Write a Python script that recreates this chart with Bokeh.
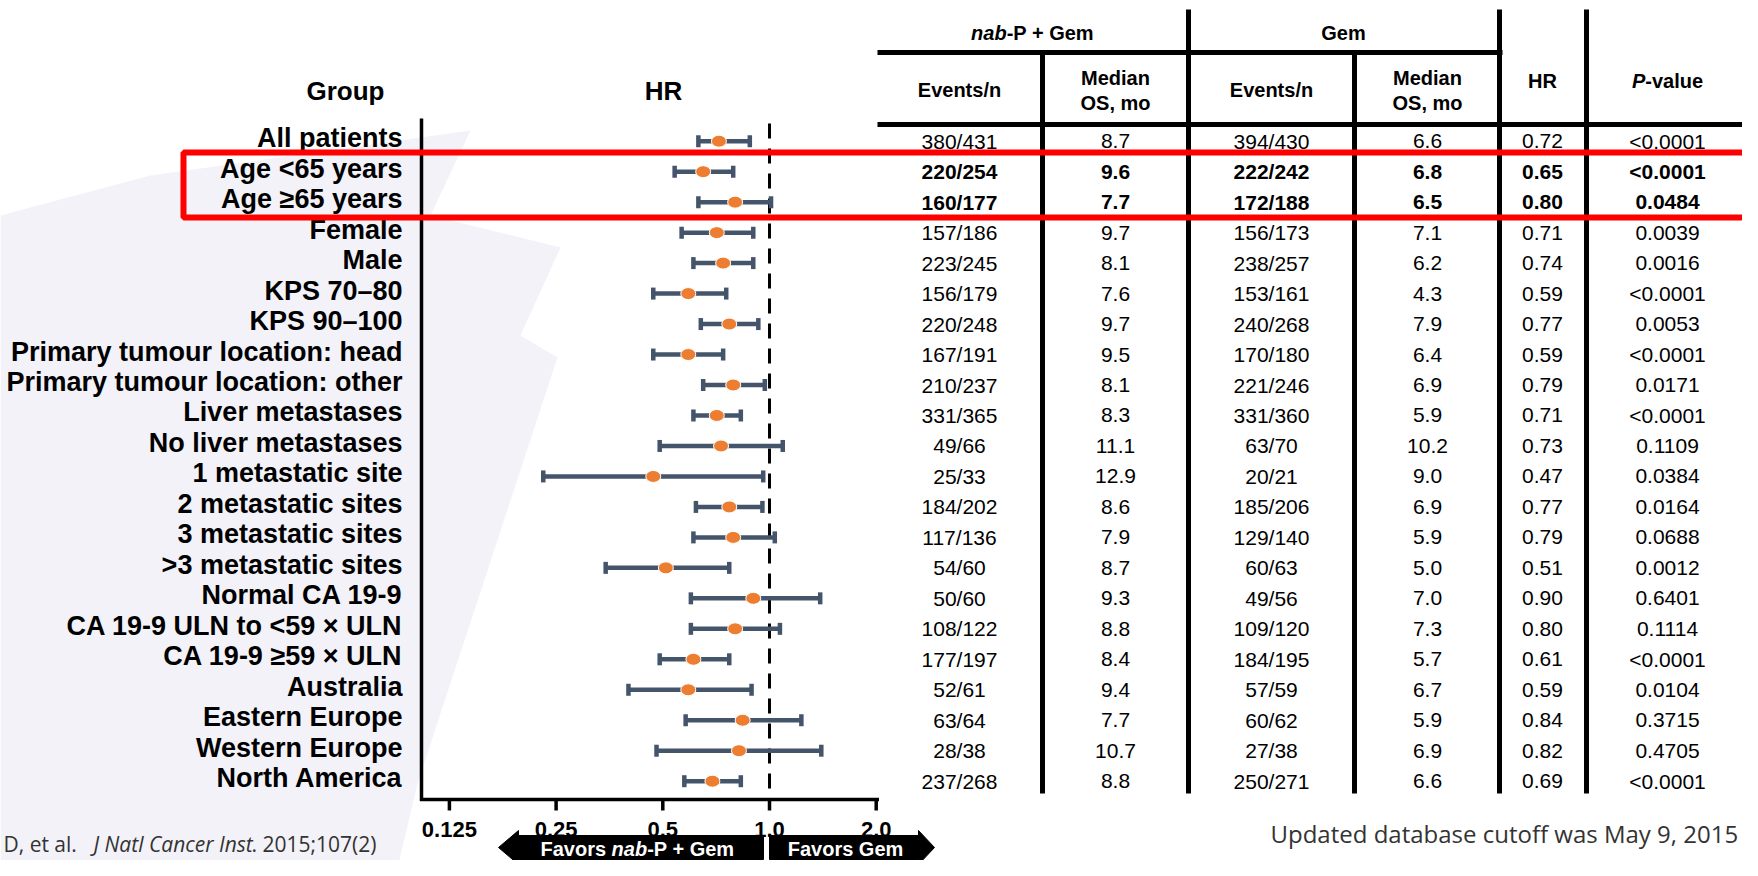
from bokeh.plotting import figure
from bokeh.models import Range1d, LogScale, ColumnDataSource
from bokeh.core.properties import value
from bokeh.embed import file_html
from bokeh.resources import INLINE
import numpy as np

# ---------------- data ----------------
groups = ["All patients", "Age <65 years", "Age \u226565 years", "Female", "Male",
          "KPS 70\u201380", "KPS 90\u2013100", "Primary tumour location: head",
          "Primary tumour location: other", "Liver metastases", "No liver metastases",
          "1 metastatic site", "2 metastatic sites", "3 metastatic sites",
          ">3 metastatic sites", "Normal CA 19-9", "CA 19-9 ULN to <59 \u00d7 ULN",
          "CA 19-9 \u226559 \u00d7 ULN", "Australia", "Eastern Europe", "Western Europe",
          "North America"]
hr = [0.72, 0.65, 0.80, 0.71, 0.74, 0.59, 0.77, 0.59, 0.79, 0.71, 0.73,
      0.47, 0.77, 0.79, 0.51, 0.90, 0.80, 0.61, 0.59, 0.84, 0.82, 0.69]
ci_low = [0.63, 0.54, 0.63, 0.565, 0.61, 0.47, 0.64, 0.47, 0.65, 0.61, 0.49,
          0.23, 0.62, 0.61, 0.345, 0.60, 0.60, 0.49, 0.40, 0.58, 0.48, 0.575]
ci_high = [0.88, 0.79, 1.01, 0.90, 0.90, 0.755, 0.93, 0.74, 0.97, 0.83, 1.09,
           0.96, 0.955, 1.035, 0.77, 1.39, 1.07, 0.77, 0.89, 1.23, 1.40, 0.83]
events_nab = ["380/431", "220/254", "160/177", "157/186", "223/245", "156/179", "220/248",
              "167/191", "210/237", "331/365", "49/66", "25/33", "184/202", "117/136",
              "54/60", "50/60", "108/122", "177/197", "52/61", "63/64", "28/38", "237/268"]
median_nab = ["8.7", "9.6", "7.7", "9.7", "8.1", "7.6", "9.7", "9.5", "8.1", "8.3", "11.1",
              "12.9", "8.6", "7.9", "8.7", "9.3", "8.8", "8.4", "9.4", "7.7", "10.7", "8.8"]
events_gem = ["394/430", "222/242", "172/188", "156/173", "238/257", "153/161", "240/268",
              "170/180", "221/246", "331/360", "63/70", "20/21", "185/206", "129/140",
              "60/63", "49/56", "109/120", "184/195", "57/59", "60/62", "27/38", "250/271"]
median_gem = ["6.6", "6.8", "6.5", "7.1", "6.2", "4.3", "7.9", "6.4", "6.9", "5.9", "10.2",
              "9.0", "6.9", "5.9", "5.0", "7.0", "7.3", "5.7", "6.7", "5.9", "6.9", "6.6"]
hr_text = ["0.72", "0.65", "0.80", "0.71", "0.74", "0.59", "0.77", "0.59", "0.79", "0.71", "0.73",
           "0.47", "0.77", "0.79", "0.51", "0.90", "0.80", "0.61", "0.59", "0.84", "0.82", "0.69"]
p_values = ["<0.0001", "<0.0001", "0.0484", "0.0039", "0.0016", "<0.0001", "0.0053", "<0.0001",
            "0.0171", "<0.0001", "0.1109", "0.0384", "0.0164", "0.0688", "0.0012", "0.6401",
            "0.1114", "<0.0001", "0.0104", "0.3715", "0.4705", "<0.0001"]
highlight = [False, True, True] + [False] * 19
tick_values = [0.125, 0.25, 0.5, 1.0, 2.0]
tick_labels = ["0.125", "0.25", "0.5", "1.0", "2.0"]

# ---------------- layout constants (canvas px) ----------------
W, H = 1742, 860
X_ONE = 769                # x of HR = 1
DBL = 106.7                # px per doubling of HR
ROW0 = 140.7               # y of first row
STEP = (780.7 - 140.7) / 21
AX_LEFT = 421
AX_RIGHT = 877
AX_Y = 799
AX_TOP = 118
FONT = value("Liberation Sans")
FONT2 = value("Open Sans")
BAR = "#44546A"
DOT = "#ED7D31"

p = figure(width=W, height=H, x_range=Range1d(0, W), y_range=Range1d(H, 0),
           output_backend="svg", toolbar_location=None, min_border=0,
           x_axis_location=None, y_axis_location=None)
p.outline_line_color = None
p.grid.grid_line_color = None
p.background_fill_color = "white"
p.border_fill_color = "white"

p.extra_x_ranges = {"hr": Range1d(start=2 ** ((0 - X_ONE) / DBL), end=2 ** ((W - X_ONE) / DBL))}
p.extra_x_scales = {"hr": LogScale()}
p.extra_y_ranges = {"row": Range1d(start=(H - ROW0) / STEP, end=-ROW0 / STEP)}

# faint slide watermark
wm_x = [[0, 150, 470, 430, 560, 520, 557, 417, 395, 0]]
wm_y = [[215, 175, 130, 215, 247, 335, 357, 783, 876, 876]]
p.patches(wm_x, wm_y, fill_color="#F2F2F8", line_color=None)

rows = list(range(len(groups)))
src = ColumnDataSource(dict(row=rows, group=groups, hr=hr, lo=ci_low, hi=ci_high,
                            en=events_nab, mn=median_nab, eg=events_gem, mg=median_gem,
                            hrt=hr_text, pv=p_values,
                            style=["bold" if h else "normal" for h in highlight]))

# headers
p.text(x=[345, 663], y=[90, 90], text=["Group", "HR"],
       text_font=FONT, text_font_style="bold", text_font_size="26px",
       text_align="center", text_baseline="middle", text_color="black")

# group labels
p.text(x=402, y="row", text="group", source=src, y_range_name="row", y_offset=-3,
       text_font=FONT, text_font_style="bold", text_font_size="27px",
       text_align="right", text_baseline="middle", text_color="black")

# axes of forest plot
p.segment(x0=[AX_LEFT], y0=[AX_TOP], x1=[AX_LEFT], y1=[AX_Y + 1.5], line_width=3.5, line_color="black")
p.segment(x0=[AX_LEFT - 1.5], y0=[AX_Y], x1=[AX_RIGHT + 1.5], y1=[AX_Y], line_width=3.5, line_color="black")
p.segment(x0=tick_values, x1=tick_values, y0=[AX_Y] * 5, y1=[AX_Y + 11] * 5,
          x_range_name="hr", line_width=3.5, line_color="black")
p.text(x=tick_values, y=[829] * 5, text=tick_labels, x_range_name="hr",
       text_font=FONT, text_font_style="bold", text_font_size="22px",
       text_align="center", text_baseline="middle", text_color="black")
p.segment(x0=[1.0], x1=[1.0], y0=[123], y1=[AX_Y], x_range_name="hr",
          line_width=3, line_color="black", line_dash="15 10")

# error bars and points
p.segment(x0="lo", x1="hi", y0="row", y1="row", source=src, x_range_name="hr",
          y_range_name="row", line_width=4.5, line_color=BAR)
for c in ("lo", "hi"):
    p.scatter(x=c, y="row", source=src, x_range_name="hr", y_range_name="row",
              marker="dash", angle=np.pi / 2, size=12, line_width=4.5, line_color=BAR)
p.ellipse(x="hr", y="row", width=15, height=12, width_units="screen", height_units="screen",
          source=src, x_range_name="hr", y_range_name="row",
          fill_color=DOT, line_color="white", line_width=1)

# arrows
ARW_Y = 847
left_arrow_x = [498, 518, 518, 763, 763, 518, 518]
left_arrow_dy = [0, -17, -12, -12, 12, 12, 17]
right_arrow_x = [769, 918, 918, 934, 918, 918, 769]
right_arrow_dy = [-12, -12, -17, 0, 17, 12, 12]
p.patches([left_arrow_x, right_arrow_x],
          [[ARW_Y + d for d in left_arrow_dy], [ARW_Y + d for d in right_arrow_dy]],
          fill_color="black", line_color="black")
p.text(x=[540, 646.7, 845], y=[ARW_Y + 1] * 3,
       text=["Favors ", "-P + Gem", "Favors Gem"], text_font=FONT, text_font_style="bold",
       text_font_size="20px", text_align=["left", "left", "center"], text_baseline="middle",
       text_color="white")
p.text(x=[611.1], y=[ARW_Y + 1], text=["nab"], text_font=FONT,
       text_font_style="bold italic", text_font_size="20px", text_align="left",
       text_baseline="middle", text_color="white")

# table lines
p.segment(x0=[877, 877], y0=[52, 124], x1=[1502, 1747], y1=[52, 124], line_width=5, line_color="black")
vx = [1042, 1188, 1354, 1499, 1586]
vy0 = [52, 9, 52, 9, 9]
p.segment(x0=vx, y0=vy0, x1=vx, y1=[793] * 5, line_width=5, line_color="black")

# table headers
hdr = dict(text_font=FONT, text_font_style="bold", text_font_size="20px",
           text_baseline="middle", text_color="black")
p.text(x=[970.6], y=[32], text=["nab"], text_align="left",
       **{**hdr, "text_font_style": "bold italic"})
p.text(x=[1006.2], y=[32], text=["-P + Gem"], text_align="left", **hdr)
p.text(x=[1343], y=[32], text=["Gem"], text_align="center", **hdr)
cols = [959, 1115, 1271, 1427, 1542, 1667]
p.text(x=[cols[0], cols[2]], y=[89] * 2, text=["Events/n"] * 2, text_align="center", **hdr)
p.text(x=[cols[1], cols[3]], y=[77] * 2, text=["Median"] * 2, text_align="center", **hdr)
p.text(x=[cols[1], cols[3]], y=[102] * 2, text=["OS, mo"] * 2, text_align="center", **hdr)
p.text(x=[cols[4]], y=[80], text=["HR"], text_align="center", **hdr)
p.text(x=[1631.5], y=[80], text=["P"], text_align="left",
       **{**hdr, "text_font_style": "bold italic"})
p.text(x=[1644.8], y=[80], text=["-value"], text_align="left", **hdr)

# table body
for cx, field in zip(cols, ["en", "mn", "eg", "mg", "hrt", "pv"]):
    p.text(x=cx, y="row", text=field, source=src, y_range_name="row",
           text_font=FONT, text_font_style="style", text_font_size="21px",
           text_align="center", text_baseline="middle", text_color="black")

# highlight box
p.quad(left=[183], right=[1900], top=[152], bottom=[217],
       fill_color=None, line_color="#FF0000", line_width=6)

# footnotes
p.text(x=[1270], y=[833], text=["Updated database cutoff was May 9, 2015"],
       text_font=FONT2, text_font_size="24px", text_align="left", text_baseline="middle",
       text_color="#333333")
p.text(x=[3, 251], y=[843] * 2, text=["D, et al.", ". 2015;107(2)"],
       text_font=FONT2, text_font_size="21px", text_align="left", text_baseline="middle",
       text_color="#333333")
p.text(x=[93], y=[843], text=["J Natl Cancer Inst"],
       text_font=FONT2, text_font_style="italic", text_font_size="21px", text_align="left",
       text_baseline="middle", text_color="#333333")

open("out.html", "w").write(file_html(p, INLINE))
